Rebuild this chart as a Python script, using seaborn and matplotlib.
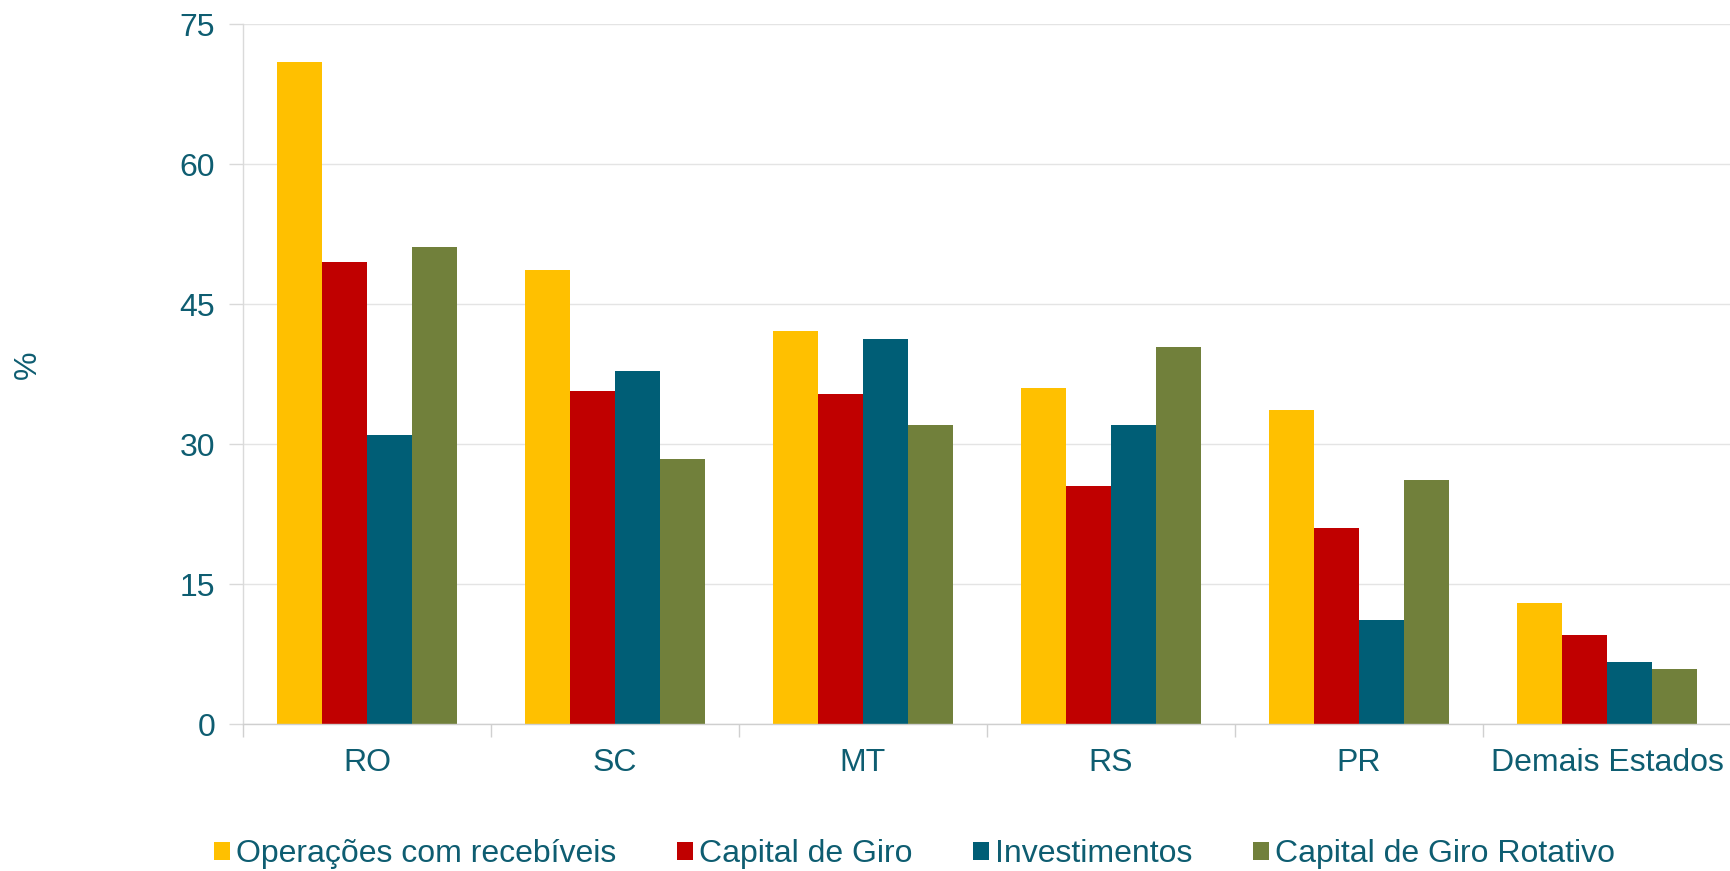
import matplotlib
matplotlib.use("Agg")
import matplotlib.pyplot as plt
import seaborn as sns
import pandas as pd

categories = ["RO", "SC", "MT", "RS", "PR", "Demais Estados"]
series_names = ["Operações com recebíveis", "Capital de Giro", "Investimentos", "Capital de Giro Rotativo"]
recebiveis = [71.0, 48.7, 42.1, 36.0, 33.7, 13.0]
capital_giro = [49.5, 35.7, 35.4, 25.5, 21.0, 9.6]
investimentos = [31.0, 37.9, 41.3, 32.1, 11.2, 6.7]
giro_rotativo = [51.1, 28.4, 32.1, 40.4, 26.2, 5.9]
yticks = [0, 15, 30, 45, 60, 75]

colors = ["#FFC000", "#C00000", "#005E76", "#71803B"]
text_color = "#0E5D71"

rows = []
for name, vals in zip(series_names, [recebiveis, capital_giro, investimentos, giro_rotativo]):
    for c, v in zip(categories, vals):
        rows.append({"Estado": c, "Modalidade": name, "Valor": v})
df = pd.DataFrame(rows)

sns.set_theme(style="white")
plt.rcParams['font.family'] = ['Liberation Sans', 'DejaVu Sans']

W, H = 1731, 871
FS = 23
fig = plt.figure(figsize=(W / 100, H / 100), dpi=100)
ax = fig.add_axes([243 / W, 1 - 724.3 / H, (W - 243) / W, 700 / H])

sns.barplot(data=df, x="Estado", y="Valor", hue="Modalidade", order=categories,
            hue_order=series_names, palette=colors, width=0.725, gap=0,
            linewidth=0, saturation=1, ax=ax, legend=True)

ax.set_xlim(-0.5, len(categories) - 0.5)
ax.set_ylim(0, 75)
ax.set_yticks(yticks)
ax.set_yticklabels([str(t) for t in yticks], fontsize=FS, color=text_color)
ax.yaxis.grid(True, color="#E4E4E4", linewidth=1)
ax.set_axisbelow(True)
ax.tick_params(axis="y", length=10, color="#D9D9D9", width=1, pad=10, left=True)

ax.set_xticks(range(len(categories)))
ax.set_xticklabels(categories, fontsize=FS, color=text_color)
ax.tick_params(axis="x", which="major", length=0, pad=17)
ax.set_xticks([i - 0.5 for i in range(len(categories) + 1)], minor=True)
ax.tick_params(axis="x", which="minor", length=9, color="#D0D0D0", width=1, bottom=True)

for side in ["top", "right"]:
    ax.spines[side].set_visible(False)
ax.spines["left"].set_color("#DADADA")
ax.spines["left"].set_linewidth(1)
ax.spines["bottom"].set_color("#CFCFCF")
ax.spines["bottom"].set_linewidth(1)

ax.set_xlabel("")
ax.set_ylabel("")
fig.text(28 / W, 1 - 365 / H, "%", rotation=90, fontsize=FS, color=text_color,
         ha="center", va="center")

handles, labels = ax.get_legend_handles_labels()
ax.get_legend().remove()
leg = fig.legend(handles, labels, loc="center", bbox_to_anchor=(914.5 / W, 1 - 854 / H),
                 ncol=4, frameon=False, fontsize=FS, handlelength=0.5, handleheight=0.5,
                 handletextpad=0.19, columnspacing=1.9, borderpad=0, borderaxespad=0)
for t in leg.get_texts():
    t.set_color(text_color)

fig.savefig("out.png", dpi=100)
